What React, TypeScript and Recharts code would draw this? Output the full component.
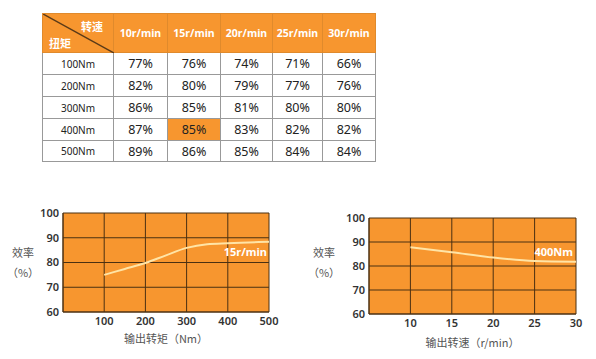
import { LineChart, Line, XAxis, YAxis, CartesianGrid, LabelList, Label } from 'recharts'

const speeds = ['10r/min', '15r/min', '20r/min', '25r/min', '30r/min']
const torques = ['100Nm', '200Nm', '300Nm', '400Nm', '500Nm']
const efficiency = [
  ['77%', '76%', '74%', '71%', '66%'],
  ['82%', '80%', '79%', '77%', '76%'],
  ['86%', '85%', '81%', '80%', '80%'],
  ['87%', '85%', '83%', '82%', '82%'],
  ['89%', '86%', '85%', '84%', '84%'],
]

const torqueX = [100, 150, 200, 250, 300, 350, 400, 450, 500]
const torqueEff = [75, 77.4, 79.8, 82.9, 85.9, 87.4, 87.8, 88.1, 88.4]
const speedX = [10, 15, 20, 25, 30]
const speedEff = [87.8, 85.7, 83.5, 82.1, 81.8]

const yTicks = [60, 70, 80, 90, 100]
const torqueTicks = [100, 200, 300, 400, 500]
const speedTicks = [10, 15, 20, 25, 30]

const ORANGE = '#f7962f'
const GRID = '#4a3012'
const LINE = '#ffe4a6'
const colW = [71, 54, 53, 52, 50, 53]
const rowH = [22, 22, 22, 22, 21]

const torqueData = torqueX.map((x, i) => ({ x, y: torqueEff[i] }))
const speedData = speedX.map((x, i) => ({ x, y: speedEff[i] }))

const tickStyle = { fill: '#333', fontSize: 11, fontFamily: 'Noto Sans', fontWeight: 600 }

function YTitle({ viewBox, dx }: any) {
  const cx = viewBox.x + dx
  return (
    <text fill="#555" fontSize={11} fontFamily="Noto Sans CJK SC" textAnchor="middle">
      <tspan x={cx} y={57}>效率</tspan>
      <tspan x={cx} y={77}>（%）</tspan>
    </text>
  )
}

function EndLabel({ x, y, index, last, dx, dy, text }: any) {
  if (index !== last) return null
  return (
    <text x={x + dx} y={y + dy} fill="#fff" fontSize={11} fontWeight={700} fontFamily="Noto Sans" textAnchor="end">
      {text}
    </text>
  )
}

function EffTable() {
  const cell = { border: '1px solid #999', padding: 0, textAlign: 'center' as const }
  return (
    <table
      style={{
        position: 'absolute', left: 42, top: 13, borderCollapse: 'collapse', tableLayout: 'fixed',
        width: 333, fontFamily: 'Noto Sans', color: '#222',
      }}
    >
      <colgroup>
        {colW.map((w, i) => <col key={i} style={{ width: w }} />)}
      </colgroup>
      <tbody>
        <tr style={{ height: 39 }}>
          <td style={{ ...cell, background: ORANGE, position: 'relative', borderColor: '#e08a2c' }}>
            <svg width={71} height={39} style={{ position: 'absolute', left: 0, top: 0 }}>
              <line x1={0} y1={0} x2={71} y2={39} stroke="#5a3a18" strokeWidth={1.5} />
              <text x={38} y={17} fill="#fff" fontSize={11} fontWeight={700} fontFamily="Noto Sans CJK SC">转速</text>
              <text x={6} y={34} fill="#fff" fontSize={11} fontWeight={700} fontFamily="Noto Sans CJK SC">扭矩</text>
            </svg>
          </td>
          {speeds.map((s) => (
            <td key={s} style={{ ...cell, background: ORANGE, color: '#fff', fontSize: 10.5, fontWeight: 700, borderColor: '#e08a2c' }}>{s}</td>
          ))}
        </tr>
        {torques.map((t, r) => (
          <tr key={t} style={{ height: rowH[r] }}>
            <td style={{ ...cell, fontSize: 10 }}>{t}</td>
            {efficiency[r].map((v, c) => (
              <td key={c} style={{ ...cell, fontSize: 12.5, background: r === 3 && c === 1 ? ORANGE : '#fff' }}>{v}</td>
            ))}
          </tr>
        ))}
      </tbody>
    </table>
  )
}

export default function App() {
  return (
    <div style={{ position: 'fixed', left: 0, top: 0, width: 596, height: 359, background: '#fff' }}>
      <EffTable />
      <div style={{ position: 'absolute', left: 0, top: 200 }}>
        <LineChart width={290} height={159} data={torqueData} margin={{ top: 13, right: 21, left: 0, bottom: 0 }}>
          <CartesianGrid fill={ORANGE} stroke={GRID} strokeOpacity={1} />
          <XAxis
            dataKey="x" type="number" domain={[0, 500]} ticks={torqueTicks} height={47}
            tickLine={false} tickSize={3} tickMargin={2} axisLine={{ stroke: GRID }} tick={tickStyle}
          >
            <Label value="输出转矩（Nm）" position="insideBottom" offset={16} fill="#555" fontSize={11} fontFamily="Noto Sans CJK SC" />
          </XAxis>
          <YAxis
            domain={[60, 100]} ticks={yTicks} width={63} tickLine={false} tickSize={2} tickMargin={2}
            axisLine={{ stroke: GRID }} tick={tickStyle}
            label={<YTitle dx={23} />}
          />
          <Line type="monotone" dataKey="y" stroke={LINE} strokeWidth={2} dot={false} isAnimationActive={false}>
            <LabelList dataKey="x" content={<EndLabel last={torqueData.length - 1} dx={-2} dy={14} text="15r/min" />} />
          </Line>
        </LineChart>
      </div>
      <div style={{ position: 'absolute', left: 290, top: 200 }}>
        <LineChart width={300} height={159} data={speedData} margin={{ top: 18, right: 14, left: 0, bottom: 0 }}>
          <CartesianGrid fill={ORANGE} stroke={GRID} strokeOpacity={1} />
          <XAxis
            dataKey="x" type="number" domain={[5, 30]} ticks={speedTicks} height={45}
            tickLine={false} tickSize={3} tickMargin={2} axisLine={{ stroke: GRID }} tick={tickStyle}
          >
            <Label value="输出转速（r/min）" position="insideBottom" offset={12} fill="#555" fontSize={11} fontFamily="Noto Sans CJK SC" />
          </XAxis>
          <YAxis
            domain={[60, 100]} ticks={yTicks} width={79} tickLine={false} tickSize={2} tickMargin={2}
            axisLine={{ stroke: GRID }} tick={tickStyle}
            label={<YTitle dx={34} />}
          />
          <Line type="monotone" dataKey="y" stroke={LINE} strokeWidth={2} dot={false} isAnimationActive={false}>
            <LabelList dataKey="x" content={<EndLabel last={speedData.length - 1} dx={-3} dy={-6} text="400Nm" />} />
          </Line>
        </LineChart>
      </div>
    </div>
  )
}
